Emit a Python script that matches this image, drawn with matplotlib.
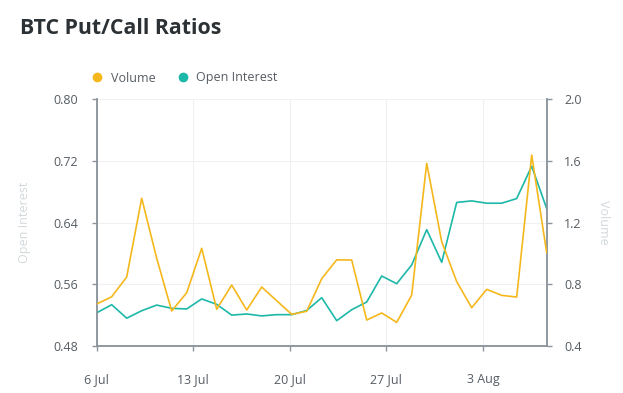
import pandas as pd
import matplotlib
matplotlib.use("Agg")
import matplotlib.pyplot as plt
from matplotlib.lines import Line2D

# ── Palette ──────────────────────────────────────────────────────────────────
YELLOW = "#F5B81C"
TEAL   = "#1DB8A8"
SPINE  = "#8C959D"
GRID   = "#F0F0F0"
TICKC  = "#555C63"
LABELC = "#D3D8DB"
TITLEC = "#2B3135"

plt.rcParams["font.family"] = ["Open Sans", "DejaVu Sans"]

# ── Data ─────────────────────────────────────────────────────────────────────
dates = pd.date_range("2020-07-06", "2020-08-07 15:00", periods=31)

volume = [0.672, 0.719, 0.847, 1.357, 0.968, 0.627, 0.745, 1.033, 0.638, 0.795,
          0.633, 0.782, 0.693, 0.605, 0.625, 0.836, 0.958, 0.957, 0.568, 0.614,
          0.553, 0.730, 1.583, 1.076, 0.817, 0.648, 0.767, 0.728, 0.717, 1.637,
          1.004]

open_interest = [0.523, 0.5335, 0.516, 0.5257, 0.533, 0.5288, 0.528, 0.541, 0.534,
                 0.520, 0.5215, 0.519, 0.5206, 0.5206, 0.526, 0.5426, 0.5128, 0.527,
                 0.537, 0.5707, 0.5607, 0.585, 0.6307, 0.5884, 0.666, 0.668, 0.665,
                 0.665, 0.671, 0.713, 0.658]

tick_dates = pd.to_datetime(["2020-07-06", "2020-07-13", "2020-07-20",
                             "2020-07-27", "2020-08-03"])
tick_labels = ["6 Jul", "13 Jul", "20 Jul", "27 Jul", "3 Aug"]

oi_ticks = [0.48, 0.56, 0.64, 0.72, 0.80]
vol_ticks = [0.4, 0.8, 1.2, 1.6, 2.0]

# ── Figure ───────────────────────────────────────────────────────────────────
fig = plt.figure(figsize=(6.23, 3.93), dpi=100, facecolor="white")
ax = fig.add_axes([96.7 / 623, 1 - 346 / 393, (546.7 - 96.7) / 623, (346 - 99) / 393])
ax2 = ax.twinx()

ax.plot(dates, open_interest, color=TEAL, lw=1.2, zorder=3)
ax2.plot(dates, volume, color=YELLOW, lw=1.2, zorder=3)

ax.set_xlim(dates[0], dates[-1])
ax.set_ylim(oi_ticks[0], oi_ticks[-1])
ax2.set_ylim(vol_ticks[0], vol_ticks[-1])

ax.set_yticks(oi_ticks)
ax.set_yticklabels([f"{v:.2f}" for v in oi_ticks])
ax2.set_yticks(vol_ticks)
ax2.set_yticklabels([f"{v:.1f}" for v in vol_ticks])
ax.set_xticks(tick_dates)
ax.set_xticklabels(tick_labels)

ax.grid(True, color=GRID, lw=0.8, zorder=0)
ax.set_axisbelow(True)

for a in (ax, ax2):
    a.spines["top"].set_visible(False)
    for side in ("left", "right", "bottom"):
        a.spines[side].set_color(SPINE)
        a.spines[side].set_linewidth(1.1)
    a.tick_params(colors=SPINE, labelcolor=TICKC, labelsize=9, length=3.6, width=1.0)
ax.tick_params(axis="y", pad=10)
ax2.tick_params(axis="y", pad=9)
ax.tick_params(axis="x", pad=16)

# axis titles
fig.text(25 / 623, 1 - 222 / 393, "Open Interest", rotation=90, ha="center", va="center",
         fontsize=9, color=LABELC)
fig.text(604 / 623, 1 - 222 / 393, "Volume", rotation=270, ha="center", va="center",
         fontsize=9, color=LABELC)

# title
fig.text(20 / 623, 1 - 29 / 393, "BTC Put/Call Ratios", ha="left", va="center",
         fontsize=15.3, fontweight="bold", color=TITLEC)

# legend
handles = [
    Line2D([0], [0], marker="o", lw=0, markersize=6, markerfacecolor=YELLOW,
           markeredgecolor=YELLOW, label="Volume"),
    Line2D([0], [0], marker="o", lw=0, markersize=6, markerfacecolor=TEAL,
           markeredgecolor=TEAL, label="Open Interest"),
]
fig.legend(handles=handles, loc="center left", bbox_to_anchor=(78 / 623, 1 - 78 / 393),
           ncol=2, frameon=False, fontsize=9, handletextpad=0.5, columnspacing=1.6,
           handlelength=1.2, labelcolor="#555C63")

fig.savefig("out.png", dpi=100, facecolor="white")
